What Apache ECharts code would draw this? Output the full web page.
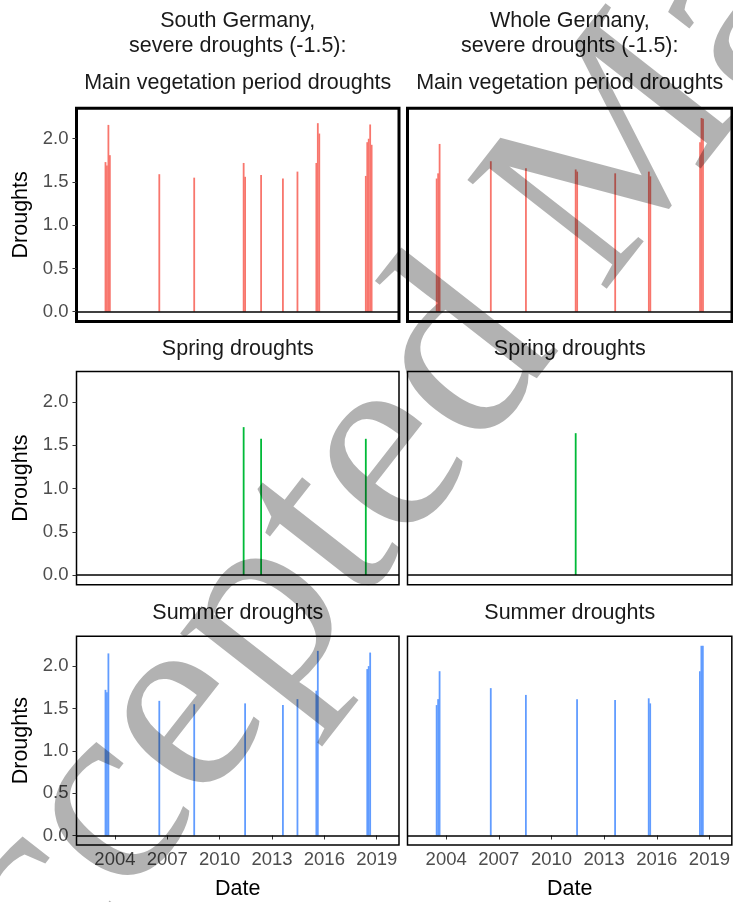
<!DOCTYPE html>
<html><head><meta charset="utf-8">
<script src="https://cdn.jsdelivr.net/npm/echarts@6/dist/echarts.min.js"></script>
<style>html,body{margin:0;padding:0;background:#fff}#c{width:733px;height:902px}</style>
</head><body><div id="c"></div>
<script>
// ---- data (monthly drought intensity, months where severe drought occurred) ----
const yTicks = [0, 0.5, 1.0, 1.5, 2.0];
const xTickYears = [2004, 2007, 2010, 2013, 2016, 2019];

const columnTitles = ['South Germany,\nsevere droughts (-1.5):', 'Whole Germany,\nsevere droughts (-1.5):'];
const rowTitles = ['Main vegetation period droughts', 'Spring droughts', 'Summer droughts'];

const sgMainMonths = ['2003-06','2003-07','2003-08','2003-09','2006-07','2008-07','2011-05','2011-06','2012-05','2013-08','2014-06','2015-07','2015-08','2015-09','2018-05','2018-06','2018-07','2018-08','2018-09'];
const sgMainValues = [1.73,1.69,2.16,1.81,1.59,1.55,1.72,1.56,1.58,1.54,1.62,1.72,2.18,2.06,1.57,1.96,2.00,2.165,1.93];

const sgSpringMonths = ['2011-05','2012-05','2018-05'];
const sgSpringValues = [1.71,1.575,1.575];

const sgSummerMonths = ['2003-06','2003-07','2003-08','2006-07','2008-07','2011-06','2013-08','2014-06','2015-07','2015-08','2018-06','2018-07','2018-08'];
const sgSummerValues = [1.72,1.69,2.15,1.59,1.55,1.56,1.54,1.61,1.71,2.18,1.965,2.00,2.16];

const wgMainMonths = ['2003-06','2003-07','2003-08','2006-07','2008-07','2011-05','2011-06','2013-08','2015-07','2015-08','2018-06','2018-07','2018-08'];
const wgMainValues = [1.54,1.60,1.94,1.74,1.66,1.645,1.62,1.60,1.62,1.565,1.96,2.24,2.23];

const wgSpringMonths = ['2011-05'];
const wgSpringValues = [1.64];

const wgSummerMonths = ['2003-06','2003-07','2003-08','2006-07','2008-07','2011-06','2013-08','2015-07','2015-08','2018-06','2018-07','2018-08'];
const wgSummerValues = [1.54,1.61,1.94,1.74,1.66,1.61,1.60,1.62,1.56,1.94,2.24,2.24];

const colors = ['#F8766D', '#00BA38', '#619CFF'];

// month string -> decimal year at mid-month
function monthToYear(m) {
  const [y, mo] = m.split('-').map(Number);
  return y + (mo - 0.5) / 12;
}

// ---- layout ----
const FONT = '"Liberation Sans", Arial, sans-serif';
const cols = [{left: 76.5, width: 322.5}, {left: 407.5, width: 324.5}];
const rows = [{top: 108.3, height: 213.1, bw: 3}, {top: 371.6, height: 213.1, bw: 1.5}, {top: 636.3, height: 213.1, bw: 1.5}];
const titleTops = [70.95, 336.95, 600.95];

const panels = [
  [[sgMainMonths, sgMainValues], [wgMainMonths, wgMainValues]],
  [[sgSpringMonths, sgSpringValues], [wgSpringMonths, wgSpringValues]],
  [[sgSummerMonths, sgSummerValues], [wgSummerMonths, wgSummerValues]]
];

const xMin = 2001.797, xMax = 2020.277;

const grid = [], xAxis = [], yAxis = [], series = [], title = [];
rows.forEach((r, ri) => {
  cols.forEach((c, ci) => {
    const idx = grid.length;
    grid.push({left: c.left, width: c.width, top: r.top, height: r.height, show: true,
      borderColor: '#000', borderWidth: r.bw, backgroundColor: 'transparent', containLabel: false});
    const bottom = ri === 2;
    xAxis.push({type: 'value', gridIndex: idx, min: xMin, max: xMax,
      axisLine: {show: false}, splitLine: {show: false},
      axisTick: {show: bottom, length: 4, lineStyle: {color: '#333', width: 1}, customValues: xTickYears},
      axisLabel: {show: bottom, customValues: xTickYears, margin: 5, color: '#4D4D4D', fontSize: 18.5, fontFamily: FONT,
        formatter: v => String(Math.round(v))},
      name: bottom ? 'Date' : '', nameLocation: 'middle', nameGap: 32,
      nameTextStyle: {fontSize: 21.5, fontFamily: FONT, color: '#000', lineHeight: 24}
    });
    const left = ci === 0;
    yAxis.push({type: 'value', gridIndex: idx, min: -0.112, max: 2.352,
      axisLine: {show: false}, splitLine: {show: false},
      axisTick: {show: left, length: 4, lineStyle: {color: '#333', width: 1}, customValues: yTicks},
      axisLabel: {show: left, customValues: yTicks, margin: 8, color: '#4D4D4D', fontSize: 18.5, fontFamily: FONT,
        formatter: v => v.toFixed(1)},
      name: left ? 'Droughts' : '', nameLocation: 'middle', nameGap: 43.5, nameRotate: 90,
      nameTextStyle: {fontSize: 21.5, fontFamily: FONT, color: '#000', lineHeight: 24}
    });
    const [months, values] = panels[ri][ci];
    series.push({type: 'bar', xAxisIndex: idx, yAxisIndex: idx, barWidth: 1.8,
      data: months.map((m, i) => [monthToYear(m), values[i]]),
      itemStyle: {color: colors[ri]},
      markLine: {silent: true, symbol: ['none', 'none'], label: {show: false},
        lineStyle: {color: '#000', width: 1.5, type: 'solid'}, data: [{yAxis: 0}]}
    });
    title.push({text: rowTitles[ri], left: c.left + c.width / 2, top: titleTops[ri], padding: 0,
      textAlign: 'center', textVerticalAlign: 'top',
      textStyle: {fontSize: 21.5, fontWeight: 'normal', fontFamily: FONT, color: '#1a1a1a', lineHeight: 24.6}});
    if (ri === 0) {
      title.push({text: columnTitles[ci], left: c.left + c.width / 2, top: 8.95, padding: 0,
        textAlign: 'center', textVerticalAlign: 'top',
        textStyle: {fontSize: 21.5, fontWeight: 'normal', fontFamily: FONT, color: '#1a1a1a', lineHeight: 24.6}});
    }
  });
});

const chart = echarts.init(document.getElementById('c'), null, {renderer: 'canvas'});
chart.setOption({
  animation: false,
  backgroundColor: '#fff',
  title, grid, xAxis, yAxis, series,
  graphic: [{
    type: 'text', z: 100, silent: true, x: 590, y: 195, rotation: 52 * Math.PI / 180,
    style: {text: 'Accepted Manuscript', font: '270px "Liberation Serif", serif', fill: 'rgba(0,0,0,0.3)',
      align: 'center', verticalAlign: 'middle', textAlign: 'center', textVerticalAlign: 'middle'}
  }]
});
</script>
</body></html>
